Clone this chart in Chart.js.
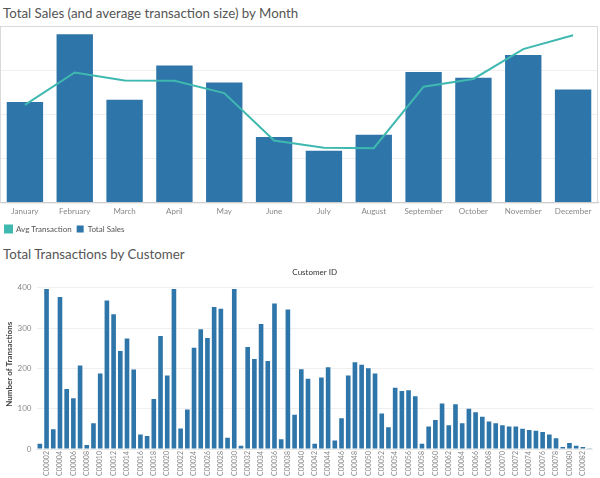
<!DOCTYPE html>
<html>
<head>
<meta charset="utf-8">
<script src="https://cdn.jsdelivr.net/npm/chart.js@4.4.1/dist/chart.umd.min.js"></script>
<style>
  body { margin: 0; width: 600px; height: 478px; background: #fff; overflow: hidden; position: relative; font-family: Lato, "Open Sans", sans-serif; }
  .title { position: absolute; left: 3px; font-size: 13.3px; color: #555; white-space: nowrap; }
  #salesWrap { position: absolute; left: 0; top: 25px; width: 600px; height: 218px; }
  #custWrap { position: absolute; left: 0; top: 264px; width: 600px; height: 214px; }
</style>
</head>
<body>
<div class="title" style="top:5px">Total Sales (and average transaction size) by Month</div>
<div id="salesWrap"><canvas id="salesChart"></canvas></div>
<div class="title" style="top:246px">Total Transactions by Customer</div>
<div id="custWrap"><canvas id="custChart"></canvas></div>

<script>
// month data (sales in $, avg transaction in $)
const months = ['January', 'February', 'March', 'April', 'May', 'June', 'July', 'August', 'September', 'October', 'November', 'December'];
const totalSales = [44900, 75100, 45900, 61200, 53600, 29200, 23100, 30200, 58200, 55700, 65800, 50400];
const avgTransaction = [44.2, 58.9, 55.3, 55.2, 49.6, 28.1, 24.8, 24.6, 52.5, 56.0, 69.5, 75.8];

// customer data
const customerIds = [
  'C00001', 'C00002', 'C00003', 'C00004', 'C00005', 'C00006', 'C00007', 'C00008', 'C00009', 'C00010',
  'C00011', 'C00012', 'C00013', 'C00014', 'C00015', 'C00016', 'C00017', 'C00018', 'C00019', 'C00020',
  'C00021', 'C00022', 'C00023', 'C00024', 'C00025', 'C00026', 'C00027', 'C00028', 'C00029', 'C00030',
  'C00031', 'C00032', 'C00033', 'C00034', 'C00035', 'C00036', 'C00037', 'C00038', 'C00039', 'C00040',
  'C00041', 'C00042', 'C00043', 'C00044', 'C00045', 'C00046', 'C00047', 'C00048', 'C00049', 'C00050',
  'C00051', 'C00052', 'C00053', 'C00054', 'C00055', 'C00056', 'C00057', 'C00058', 'C00059', 'C00060',
  'C00061', 'C00062', 'C00063', 'C00064', 'C00065', 'C00066', 'C00067', 'C00068', 'C00069', 'C00070',
  'C00071', 'C00072', 'C00073', 'C00074', 'C00075', 'C00076', 'C00077', 'C00078', 'C00079', 'C00080',
  'C00081', 'C00082', 'C00083'
];
const transactions = [
  13, 397, 49, 377, 149, 126, 207, 10, 64, 187,
  368, 334, 243, 274, 197, 36, 32, 124, 280, 182,
  397, 51, 98, 251, 297, 275, 352, 348, 28, 397,
  8, 253, 223, 310, 218, 361, 24, 346, 85, 198,
  174, 13, 177, 203, 21, 76, 182, 215, 209, 200,
  187, 88, 54, 152, 144, 146, 131, 13, 56, 72,
  113, 59, 111, 64, 100, 91, 80, 68, 64, 59,
  56, 56, 50, 47, 45, 42, 36, 27, 5, 15,
  8, 5, 2
];
const yTicks = [0, 100, 200, 300, 400];

const blue = '#2e75a9';
const teal = '#3fb9b0';
const tickFont = { family: 'Lato', size: 8 };

// box around the plot area, like the tableau pane
const paneBorder = {
  id: 'paneBorder',
  afterDraw(chart) {
    const a = chart.chartArea;
    const ctx = chart.ctx;
    ctx.save();
    ctx.strokeStyle = '#d9d9d9';
    ctx.lineWidth = 1;
    ctx.strokeRect(a.left + 0.5, a.top + 0.5, a.right - a.left - 1, a.bottom - a.top);
    ctx.restore();
  }
};

new Chart(document.getElementById('salesChart'), {
  type: 'bar',
  data: {
    labels: months,
    datasets: [
      {
        type: 'line',
        label: 'Avg Transaction',
        data: avgTransaction,
        borderColor: teal,
        backgroundColor: teal,
        borderWidth: 2,
        pointRadius: 0,
        tension: 0,
        yAxisID: 'y1',
        order: 0
      },
      {
        label: 'Total Sales',
        data: totalSales,
        backgroundColor: blue,
        barPercentage: 0.73,
        categoryPercentage: 1,
        yAxisID: 'y',
        order: 1
      }
    ]
  },
  options: {
    responsive: true,
    maintainAspectRatio: false,
    animation: false,
    layout: { padding: { top: 1, left: 0, right: 2 } },
    plugins: {
      legend: {
        position: 'bottom',
        align: 'start',
        labels: { boxWidth: 7, boxHeight: 7, padding: 5, color: '#555', font: tickFont }
      },
      tooltip: { enabled: false }
    },
    scales: {
      x: {
        grid: { display: false, drawTicks: false },
        border: { color: '#bbb' },
        ticks: { color: '#888', font: tickFont, padding: 4, maxRotation: 0 }
      },
      y: {
        min: 0,
        max: 78800,
        ticks: { display: false, stepSize: 20000 },
        grid: { color: '#efefef', drawTicks: false },
        border: { display: false }
      },
      y1: {
        min: 0,
        max: 80,
        display: false
      }
    }
  },
  plugins: [paneBorder]
});

new Chart(document.getElementById('custChart'), {
  type: 'bar',
  data: {
    labels: customerIds,
    datasets: [{
      label: 'Number of Transactions',
      data: transactions,
      backgroundColor: blue,
      barPercentage: 0.69,
      categoryPercentage: 1
    }]
  },
  options: {
    responsive: true,
    maintainAspectRatio: false,
    animation: false,
    layout: { padding: { top: 0, right: 2 } },
    plugins: { legend: { display: false }, tooltip: { enabled: false } },
    scales: {
      x: {
        grid: { display: false, drawTicks: false },
        border: { color: '#e6e6e6' },
        ticks: {
          autoSkip: false,
          maxRotation: 90,
          minRotation: 90,
          color: '#888',
          font: { family: 'Lato', size: 7 },
          padding: 2,
          callback(value, index) {
            return index % 2 === 1 ? this.getLabelForValue(value) : '';
          }
        }
      },
      x2: {
        position: 'top',
        grid: { display: false, drawTicks: false },
        border: { display: false },
        ticks: { display: false },
        title: { display: true, text: 'Customer ID', color: '#333', font: { family: 'Lato', size: 8 }, padding: { top: 4, bottom: 2 } }
      },
      y: {
        min: 0,
        max: 420,
        afterBuildTicks(axis) { axis.ticks = yTicks.map(v => ({ value: v })); },
        afterFit(axis) { axis.width = 36.5; },
        ticks: { color: '#888', font: tickFont, padding: 5 },
        grid: { color: '#efefef', drawTicks: false },
        border: { display: false },
        title: { display: true, text: 'Number of Transactions', color: '#444', font: { family: 'Lato', size: 8, weight: 'bold' }, padding: 5 }
      }
    }
  }
});
</script>
</body>
</html>
